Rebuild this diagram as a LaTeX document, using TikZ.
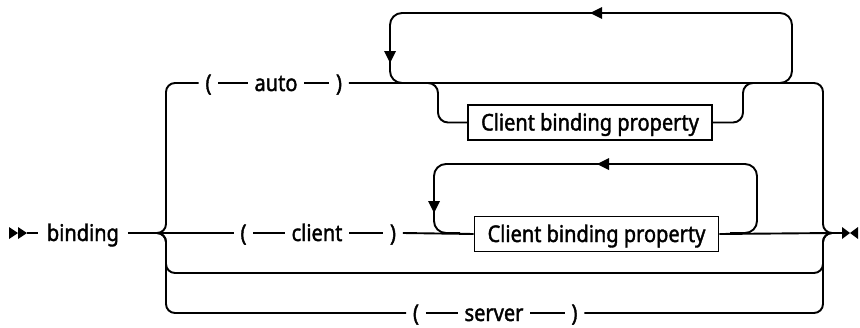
\documentclass[tikz,border=0pt]{standalone}
\usepackage{fontspec}
\newfontfamily\diagfont{Noto Sans}[FakeStretch=0.87,BoldFont={Noto Sans},BoldFeatures={FakeBold=1.6,FakeStretch=0.87}]
\begin{document}
\begin{tikzpicture}[x=1pt,y=-1pt,line width=1.9pt,rounded corners=9pt,
  tok/.style={inner xsep=6pt,inner ysep=0pt,text height=16pt,text depth=0pt,
    font=\diagfont\bfseries\fontsize{23}{27}\selectfont},
  pbox/.style={tok,draw,sharp corners,line width=1.8pt,minimum width=244pt,minimum height=35pt},
  tipfill/.style={fill=black,draw=none,sharp corners}]
\useasboundingbox (0,0) rectangle (860,327);
% ---- nodes
\node[tok,anchor=west,inner xsep=0pt] (bind) at (46,233) {binding};
\node[tok] (lpA) at (208.5,83) {(};
\node[tok] (auto) at (276,83) {auto};
\node[tok] (rpA) at (339,83) {)};
\node[pbox] (cbp1) at (590,122.5) {Client binding property};
\node[tok] (lpC) at (243.5,233) {(};
\node[tok] (client) at (317,233) {client};
\node[tok] (rpC) at (393,233) {)};
\node[pbox] (cbp2) at (596.5,234) {Client binding property};
\node[tok] (lpS) at (416,313) {(};
\node[tok] (server) at (494,313) {server};
\node[tok] (rpS) at (574.5,313) {)};
% ---- coordinates
\coordinate (s1) at (27,233);
\coordinate (Ltip) at (157,233);
\coordinate (Lm) at (166,233);
\coordinate (Rm) at (823,233);
\coordinate (Rtip) at (832,233);
\coordinate (e0) at (842,233);
% start marks
\fill[tipfill] (9,227) -- (18,233) -- (9,239) -- cycle;
\fill[tipfill] (18,227) -- (27,233) -- (18,239) -- cycle;
\draw[sharp corners] (s1) -- ([xshift=-8pt]bind.west);
\draw[sharp corners] ([xshift=8pt]bind.east) -- (Ltip);
% end marks
\draw[sharp corners] (Rtip) -- (e0);
\fill[tipfill] (842,227) -- (850,233) -- (842,239) -- cycle;
\fill[tipfill] (858,227) -- (850,233) -- (858,239) -- cycle;
% ---- top branch: ( auto )
\draw (Ltip) -- (Lm) -- (166,83) -- (lpA.west);
\draw (lpA.east) -- (auto.west);
\draw (auto.east) -- (rpA.west);
\draw (rpA.east) -- (823,83) -- (Rm) -- (Rtip);
% repeat loop
\draw[rounded corners=12pt] (760,83) -- (792,83) -- (792,13) -- (390,13) -- (390,83) -- (420,83);
\fill[tipfill] (590,13) -- (602,7) -- (602,19) -- cycle;
\fill[tipfill] (390,63) -- (384,51) -- (396,51) -- cycle;
% optional property
\draw[rounded corners=10pt] (418,83) -- (438,83) -- (438,122.5) -- (cbp1.west);
\draw[rounded corners=10pt] (cbp1.east) -- (743,122.5) -- (743,83) -- (765,83);
% ---- client branch
\draw[sharp corners] (Ltip) -- (lpC.west);
\draw (lpC.east) -- (client.west);
\draw (client.east) -- (rpC.west);
\draw[sharp corners] (rpC.east) -- (cbp2.west);
\draw[sharp corners] (cbp2.east) -- (Rtip);
\draw[rounded corners=12pt] (730,233) -- (757,233) -- (757,164) -- (434,164) -- (434,233) -- (460,233);
\fill[tipfill] (597,164) -- (609,158) -- (609,170) -- cycle;
\fill[tipfill] (434,213) -- (428,201) -- (440,201) -- cycle;
% ---- empty branch
\draw (Ltip) -- (Lm) -- (166,273) -- (823,273) -- (Rm) -- (Rtip);
% ---- server branch
\draw (Ltip) -- (Lm) -- (166,313) -- (lpS.west);
\draw (lpS.east) -- (server.west);
\draw (server.east) -- (rpS.west);
\draw (rpS.east) -- (823,313) -- (Rm) -- (Rtip);
\end{tikzpicture}
\end{document}
